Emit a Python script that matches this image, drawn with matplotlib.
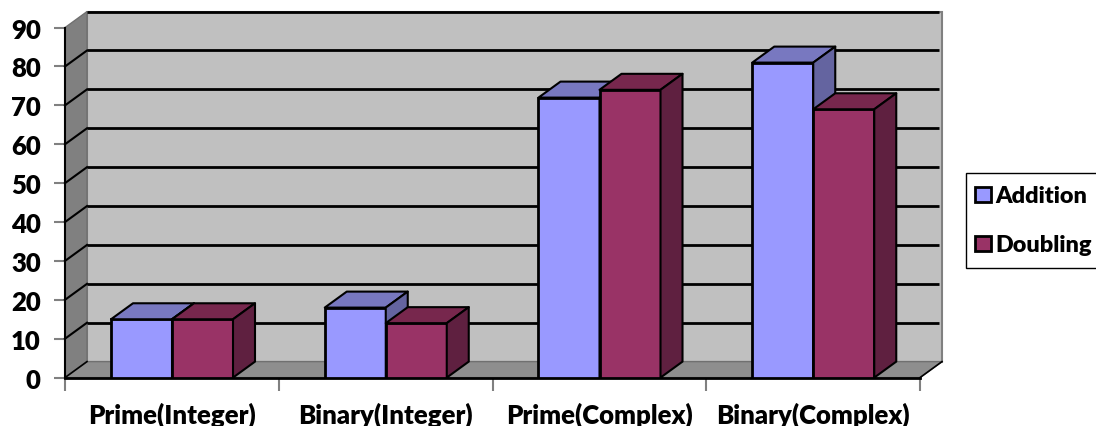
import matplotlib

matplotlib.use("Agg")
import matplotlib.pyplot as plt
from matplotlib.legend_handler import HandlerPatch
from matplotlib.patches import Polygon, Rectangle

plt.rcParams.update({"font.family": "Lato", "font.weight": "heavy", "font.size": 18.5})

categories = ["Prime(Integer)", "Binary(Integer)", "Prime(Complex)", "Binary(Complex)"]
addition = [15, 18, 72, 81]
doubling = [15, 14, 74, 69]
y_ticks = [0, 10, 20, 30, 40, 50, 60, 70, 80, 90]

# depth of the fake 3D box, in data units
dx = 22 / 213.75
dy = 16 / 3.89
bar_w = 0.2854
bar_off = 0.2152


def box(ax, x, h, face, top, side):
    ax.bar(x, h, bar_w, align="edge", color=face, edgecolor="black", linewidth=2, zorder=5)
    ax.add_patch(
        Polygon(
            [(x, h), (x + dx, h + dy), (x + bar_w + dx, h + dy), (x + bar_w, h)],
            fc=top, ec="black", lw=1.5, zorder=5, clip_on=False, joinstyle="round",
        )
    )
    ax.add_patch(
        Polygon(
            [(x + bar_w, 0), (x + bar_w + dx, dy), (x + bar_w + dx, h + dy), (x + bar_w, h)],
            fc=side, ec="black", lw=1.5, zorder=5, clip_on=False, joinstyle="round",
        )
    )


# legend swatch pushed a little to the left of its slot
def swatch(legend, orig_handle, xdescent, ydescent, width, height, fontsize):
    return Rectangle((-xdescent - 3, -ydescent), width + 3, height)


fig = plt.figure(figsize=(10.96, 4.27), dpi=100)
ax = fig.add_axes([65 / 1096, 1 - 378.6 / 427, 855 / 1096, 350 / 427])
ax.set_xlim(0, 4)
ax.set_ylim(0, 90)
ax.patch.set_visible(False)

# walls and floor
ax.add_patch(Polygon([(dx, dy), (4 + dx, dy), (4 + dx, 90 + dy), (dx, 90 + dy)],
                     fc="#c0c0c0", ec="#808080", lw=1.5, zorder=1, clip_on=False))
ax.add_patch(Polygon([(0, 0), (dx, dy), (dx, 90 + dy), (0, 90)],
                     fc="#808080", ec="#707070", lw=1, zorder=1, clip_on=False))
ax.add_patch(Polygon([(0, 0), (dx, dy), (4 + dx, dy), (4, 0)],
                     fc="#8e8e8e", ec="#707070", lw=1, zorder=1, clip_on=False))

for v in y_ticks[1:]:
    ax.plot([dx, 4 + dx - 0.012], [v + dy, v + dy], color="black", lw=2, zorder=2,
            clip_on=False, solid_capstyle="butt")
    if v < 90:
        ax.plot([0, dx], [v, v + dy], color="black", lw=1.5, zorder=2, clip_on=False)
ax.plot([0, dx], [0, dy], color="black", lw=1.2, zorder=2)
ax.plot([4, 4 + dx], [0, dy], color="black", lw=1.2, zorder=2, clip_on=False)

for i in range(len(categories)):
    box(ax, i + bar_off, addition[i], "#9999ff", "#7878c0", "#6464a0")
    box(ax, i + bar_off + bar_w, doubling[i], "#993366", "#77274d", "#5f2040")

for s in ["top", "right"]:
    ax.spines[s].set_visible(False)
ax.spines["left"].set_linewidth(1.5)
ax.spines["bottom"].set_linewidth(2)
ax.spines["left"].set_zorder(3)
ax.spines["bottom"].set_zorder(4)

ax.set_yticks(y_ticks)
ax.set_xticks(range(5))
ax.set_xticklabels([])
ax.set_xticks([i + 0.5 for i in range(4)], categories, minor=True)
ax.tick_params(axis="y", length=8, width=1.5, color="#808080", pad=9.5)
ax.tick_params(axis="x", which="major", length=9, width=1.5, color="#808080")
ax.tick_params(axis="x", which="minor", length=0, pad=17)

handles = [
    Polygon([(0, 0)], fc="#9999ff", ec="black", lw=2, label="Addition"),
    Polygon([(0, 0)], fc="#993366", ec="black", lw=2, label="Doubling"),
]
fig.legend(
    handles=handles, loc="upper left", bbox_to_anchor=(966 / 1096, 1 - 173.5 / 427),
    handler_map={Polygon: HandlerPatch(patch_func=swatch)},
    borderaxespad=0, fancybox=False, framealpha=1, edgecolor="black",
    handlelength=0.5, handleheight=0.62, handletextpad=0.22,
    labelspacing=1.2, borderpad=0.55, fontsize=16.8,
)

fig.savefig("out.png", dpi=100)
